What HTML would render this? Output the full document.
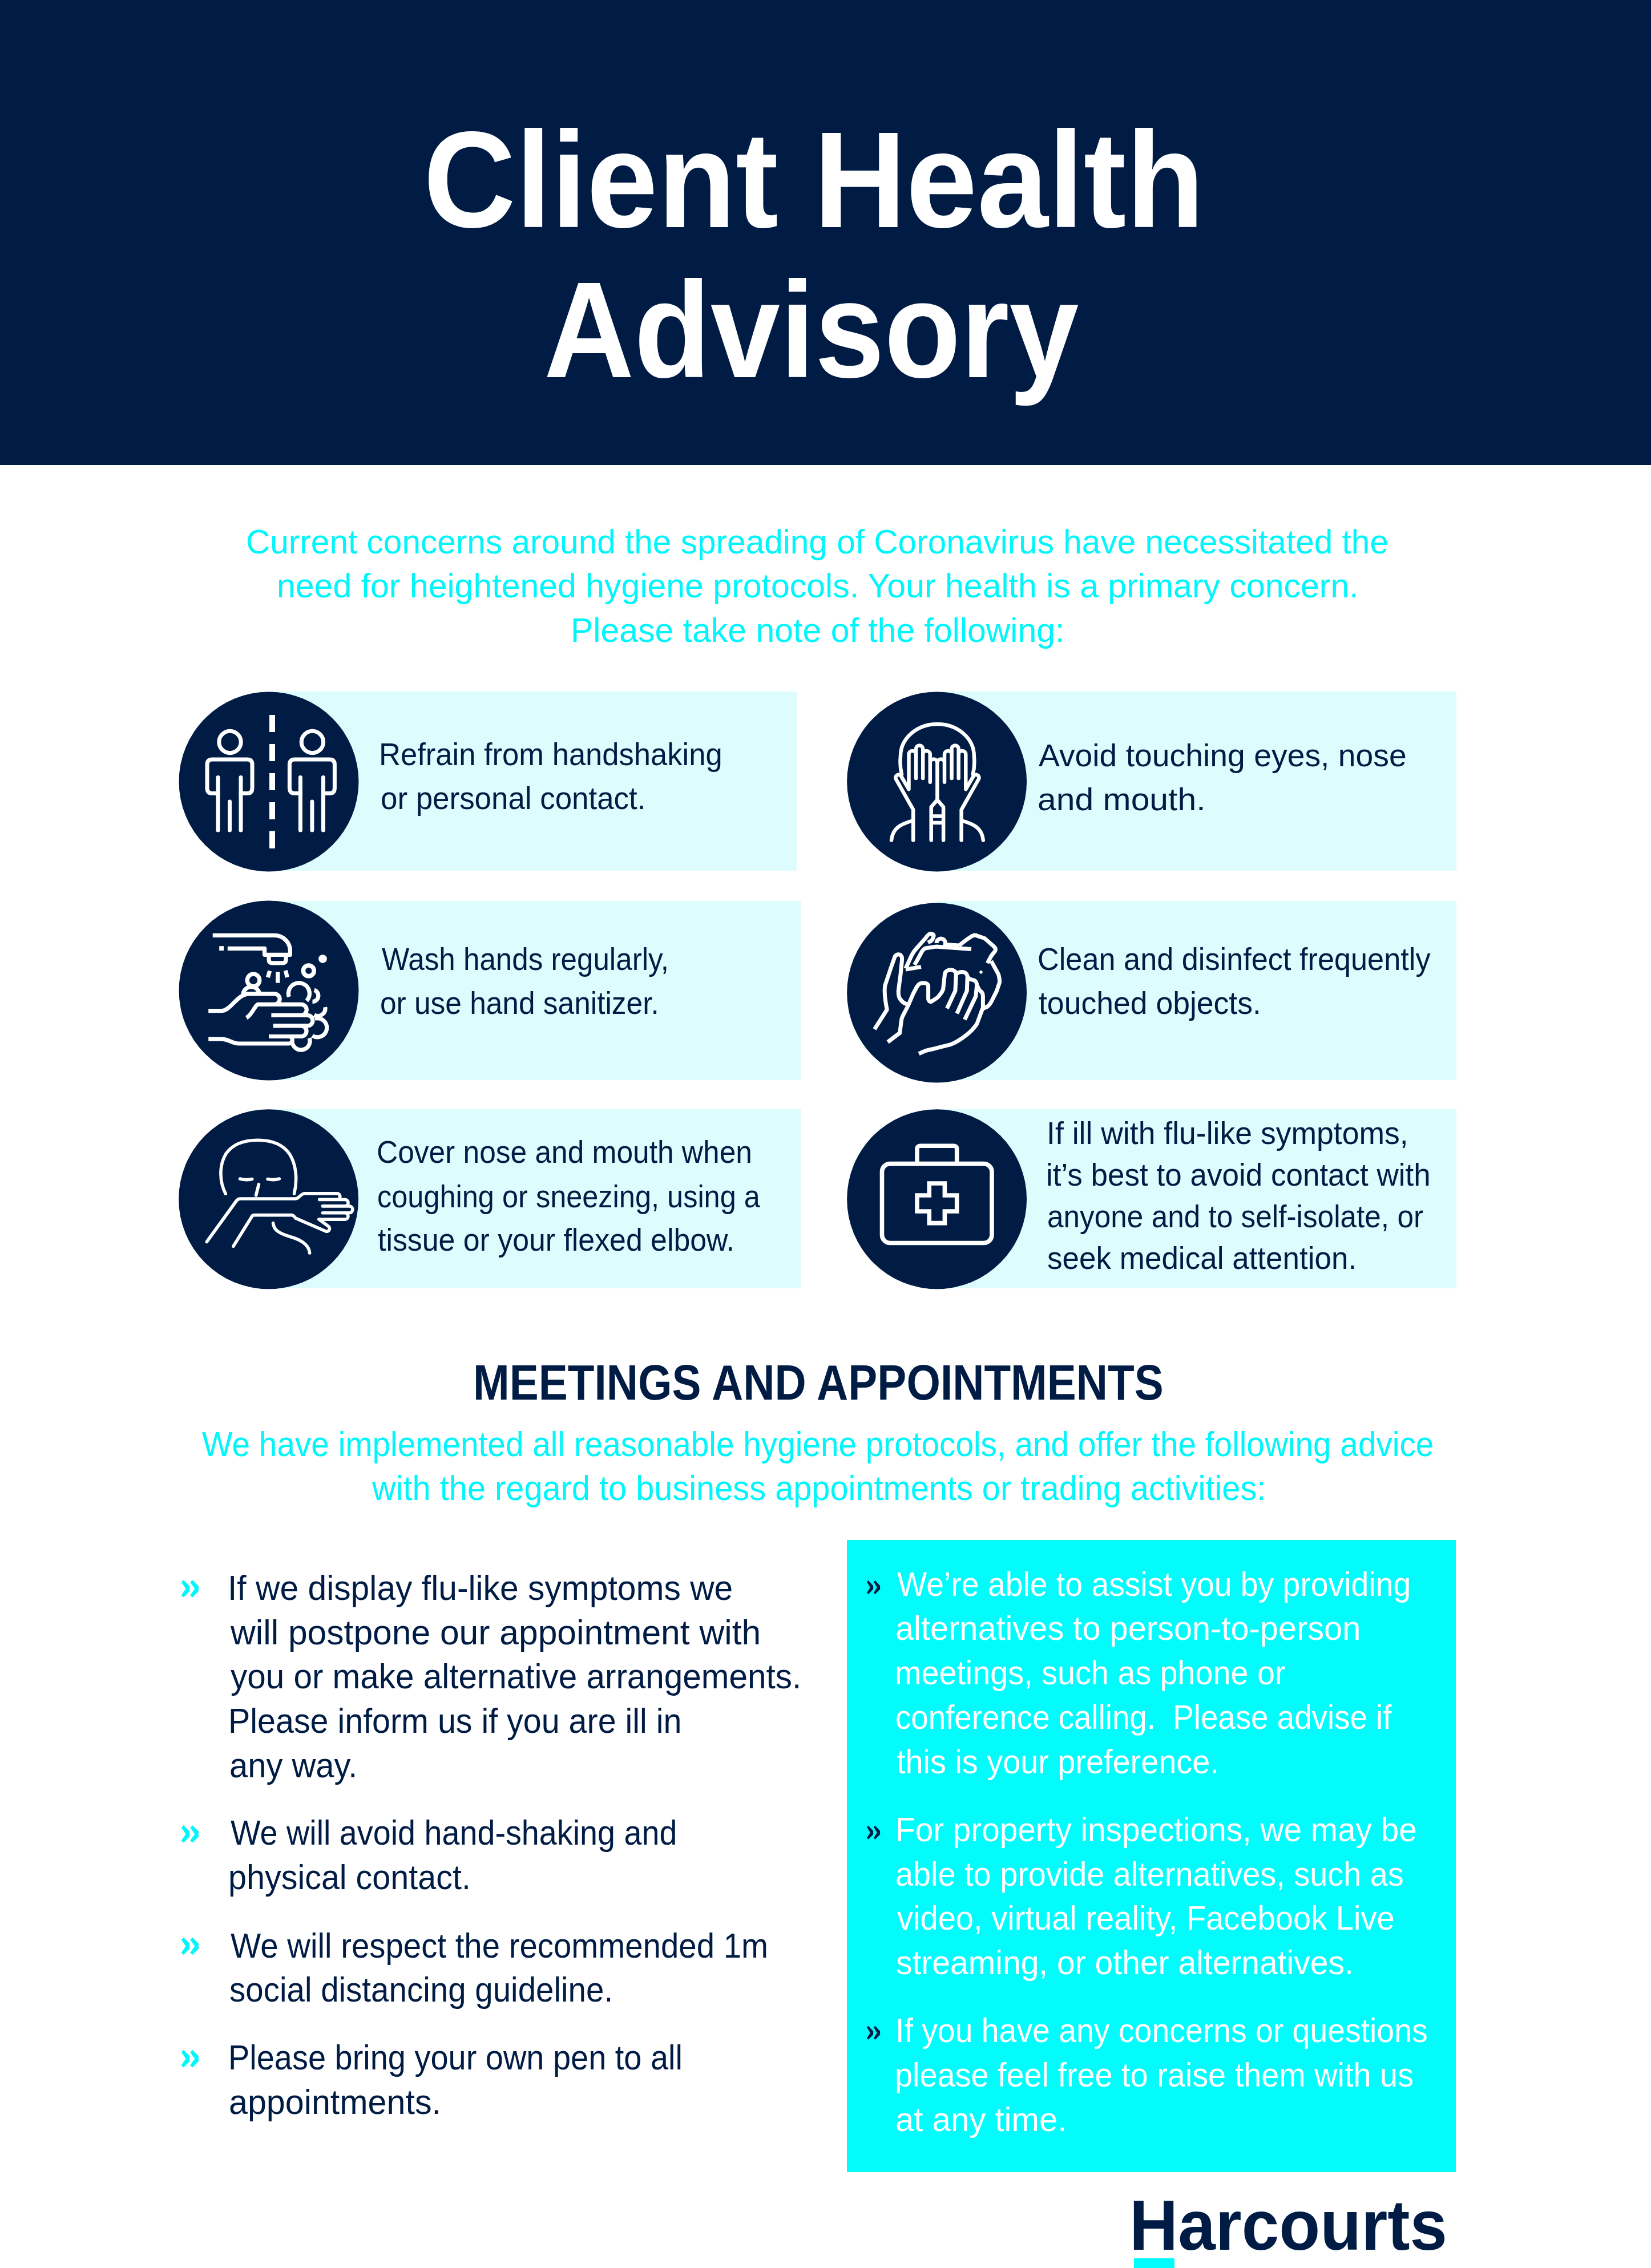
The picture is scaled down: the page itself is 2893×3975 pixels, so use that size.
<!DOCTYPE html>
<html><head><meta charset="utf-8"><title>Client Health Advisory</title>
<style>
html,body{margin:0;padding:0}
body{width:2893px;height:3975px;position:relative;overflow:hidden;background:#fff;font-family:"Liberation Sans",sans-serif}
.a{position:absolute}
.t{position:absolute;white-space:pre;transform-origin:0 0}
svg{position:absolute;overflow:visible}
</style></head><body>
<div class="a" style="left:0;top:0;width:2893px;height:815px;background:#001c44"></div><div class="a" style="left:471px;top:1212px;width:925px;height:314px;background:#dcfcfd"></div><div class="a" style="left:1642px;top:1212px;width:909.5px;height:314px;background:#dcfcfd"></div><div class="a" style="left:471px;top:1578.6px;width:931.7px;height:314.4000000000001px;background:#dcfcfd"></div><div class="a" style="left:1642px;top:1578.6px;width:909.5px;height:314.4000000000001px;background:#dcfcfd"></div><div class="a" style="left:471px;top:1943.6px;width:931.7px;height:314.4000000000001px;background:#dcfcfd"></div><div class="a" style="left:1642px;top:1943.6px;width:909.5px;height:314.4000000000001px;background:#dcfcfd"></div><div class="a" style="left:1483.6px;top:2698.6px;width:1067.9px;height:1108.4px;background:#02fcfc"></div><div class="a" style="left:1987px;top:3958px;width:71px;height:17px;background:#02fcfc"></div><svg style="left:310px;top:1210px" width="320" height="320" viewBox="0 0 320 320"><circle cx="161" cy="160" r="157.5" fill="#001c44"/><path d="M167 43V73M167 94V124M167 145V175M167 196V226M167 246.5V277" stroke="#fff" stroke-width="10" fill="none"/><g transform="translate(0,0)" fill="none" stroke="#fff" stroke-linecap="round" stroke-linejoin="round" stroke-width="7"><circle cx="93" cy="90.5" r="19.2"/><path d="M72 180.5H62Q53 180.5 53 171V130Q53 121 62 121H123Q132 121 132 130V171Q132 180.5 123 180.5H112"/><path d="M72 152.5V245M112 152.5V245M92.5 195V245"/></g><g transform="translate(144.4,0)" fill="none" stroke="#fff" stroke-linecap="round" stroke-linejoin="round" stroke-width="7"><circle cx="93" cy="90.5" r="19.2"/><path d="M72 180.5H62Q53 180.5 53 171V130Q53 121 62 121H123Q132 121 132 130V171Q132 180.5 123 180.5H112"/><path d="M72 152.5V245M112 152.5V245M92.5 195V245"/></g></svg><svg style="left:1480px;top:1210px" width="320" height="320" viewBox="0 0 320 320"><circle cx="161.6" cy="160" r="157.5" fill="#001c44"/><path d="M100 147C97 135 97 125 98 115A64.4 56 0 0 1 226.8 115C227.8 125 227.8 135 224.8 147M120.2 262.5V209.2L89.7 155A5 5 0 0 1 99.4 151L112.5 173.3V112.3A6.3 6.3 0 0 1 125.1 112.3V154M125.1 154V102.6A6.05 6.05 0 0 1 137.2 102.6V154M137.2 154V112.3A6.3 6.3 0 0 1 149.8 112.3V160.7M149.8 160.7V126.8A6.3 6.3 0 0 1 162.4 126.8V191.8L151.7 204.4V262.5M151.7 220.5H173.1M151.7 232H173.1M204.6 262.5V209.2L235.1 155A5 5 0 0 0 225.4 151L212.3 173.3V112.3A6.3 6.3 0 0 0 199.7 112.3V154M199.7 154V102.6A6.05 6.05 0 0 0 187.6 102.6V154M187.6 154V112.3A6.3 6.3 0 0 0 175 112.3V160.7M175 160.7V126.8A6.3 6.3 0 0 0 162.4 126.8V191.8L173.1 204.4V262.5M120.2 228C100 234 84 240 82 262.5M204.6 228C224.8 234 240.8 240 242.8 262.5" fill="none" stroke="#fff" stroke-linecap="round" stroke-linejoin="round" stroke-width="6.5"/></svg><svg style="left:310px;top:1575px" width="320" height="320" viewBox="0 0 320 320"><circle cx="161" cy="161" r="157.5" fill="#001c44"/><path d="M62.7 64.4H171.1A27.3 27.3 0 0 1 198.4 91.7V98.3H153.6V87.4H88.8M161.1 98.3V107Q161.1 112.8 167 112.8H185Q191.1 112.8 191.1 107V98.3M162.7 126.4L159.4 137.9M176.8 128.6V147.7M190.5 125.9L193.2 137.9M55.2 196.7H77.5C95 196.7 105 166.8 127 166.8H170.9A9.25 9.25 0 0 1 170.9 185.3H141.4C135 190 132 203 121.8 208.8M141.4 185.3H217.7A9.55 9.55 0 0 1 217.7 204.4H165.4M192 204.4H228.7A9.25 9.25 0 0 1 228.7 222.9H168.7M192 222.9H217.7A9.3 9.3 0 0 1 217.7 241.5H161M161 241.5H196A6.25 6.25 0 0 1 196 254H108.5C96 254 92 246.2 77.5 246.2H55.2" fill="none" stroke="#fff" stroke-width="7.2" stroke-linecap="butt" stroke-linejoin="round"/><rect x="74.2" y="83.2" width="7.9" height="7.8" fill="#fff"/><circle cx="255.5" cy="105.6" r="7.4" fill="#fff"/><circle cx="230.8" cy="126.4" r="9.4" fill="none" stroke="#fff" stroke-width="7.6"/><circle cx="134" cy="143" r="10.8" fill="none" stroke="#fff" stroke-width="7.2" stroke-linecap="butt" stroke-linejoin="round"/><path d="M115.7 169.2A14.6 14.6 0 0 1 144.9 169.2" fill="none" stroke="#fff" stroke-width="7.2" stroke-linecap="butt" stroke-linejoin="round"/><path d="M196.4 172.2A18.5 18.5 0 1 1 227.3 179" fill="none" stroke="#fff" stroke-width="7.2" stroke-linecap="butt" stroke-linejoin="round"/><path d="M240.6 160.2A10.4 10.4 0 0 1 237.5 180.5" fill="none" stroke="#fff" stroke-width="7.2" stroke-linecap="butt" stroke-linejoin="round"/><path d="M259.7 190.2A13 13 0 0 1 240.6 203.9" fill="none" stroke="#fff" stroke-width="7.2" stroke-linecap="butt" stroke-linejoin="round"/><path d="M241.8 210.2A16.6 16.6 0 1 1 237.3 240.3" fill="none" stroke="#fff" stroke-width="7.2" stroke-linecap="butt" stroke-linejoin="round"/><path d="M201.9 249.6A15.6 15.6 0 1 0 232.2 244.3" fill="none" stroke="#fff" stroke-width="7.2" stroke-linecap="butt" stroke-linejoin="round"/></svg><svg style="left:1480px;top:1578px" width="320" height="320" viewBox="0 0 320 320"><circle cx="161.6" cy="162" r="157.5" fill="#001c44"/><path d="M52.4 225.9L74.2 191.7C71 175 69 158 71 148.6L80.7 119.5L87.5 100.1C89 96 92 94.5 94.8 94.8C99 95 101 99 100.6 104L98.1 129.2L94.3 158.3C94 165 95 170 97.2 172.8C100 177 104 180 105.9 180.6L111.7 183.5M106.9 119.5L117.5 96.3C120 91 124 86 127.2 82.7L141.8 66.2C144 63 147 58.5 150.5 58.5C154 58.5 157 60 155.8 63.3C155 67 153 70 151.4 71.1L146 74M161.1 75A7.7 7.7 0 1 1 176 77.5L200.7 79.1M134 116.6L106.9 121M122.4 113L127.2 105L135 90.5C137 87 140 84 142.7 83.7L160 81.1L222 85.4M200.7 79.1L214.3 68.5L223 62.7C226 61 230 60.5 233.6 62.7L245.3 66.5L261.8 81.1C264 83 265 86 263.7 88.8L256.9 97.5L250.1 110.1M256.9 106.3L269.5 129.5C271 135 272 140 271.4 144.1L266.6 158.6L256.9 178C254 183 250 187 247.2 187.7L243.3 189.6M75.6 248.4L96.7 232.4L99.6 209.2C100.5 205 101.5 203 103 200.5L111.7 183.5L120.4 163.1L127.2 150.5C130 146 134 144.7 137.9 144.7C142 144.7 146 146 146.6 150V172.8C147 176 149 177.7 151.4 177.7L162.1 170.9C166 167 170 163 172.6 156L175.5 129.5C176 124 181 121.8 186.2 121.8C191 121.8 195.4 125 195.4 129.5L193.9 158.6L179.4 189.6M195.4 129.5C196 128 200 125.6 205.5 125.6C211 125.6 215.2 129 215.2 134.4L214.3 158.6L196.8 198.3M215.2 134.4C217 136 220 139 224 139.2C228 139.5 231.7 143 231.7 148.9L229.8 168.3L210.4 209M130.1 268.8C140 264 146 262 150.5 261.5C165 258 175 255 185.4 252.8C196 249 206 242 214.4 235.3C222 229 228 222 231.9 216.4L242.4 187.7V168.3C242.4 163 240 160 237.5 158.6C236 158 234 152 231.7 148.9" fill="none" stroke="#fff" stroke-width="7" stroke-linecap="butt" stroke-linejoin="round"/><rect x="236.5" y="123.2" width="5" height="5" fill="#fff" transform="rotate(45 239 125.7)"/></svg><svg style="left:310px;top:1942px" width="320" height="320" viewBox="0 0 320 320"><circle cx="160.6" cy="159.7" r="157.5" fill="#001c44"/><path d="M85.3 150.2C74 128 74 100 86 80C98 63 118 56.2 141.5 56.2C165 56.2 185 63 197 80C210 100 211 128 205.5 150.2M110.5 124C117 126 125 126 131.8 124.5M159 124.5C166 126 173 126 179.3 124M143.4 133.7L138.6 153M52.3 234.5L104 163C106 160 108 159 111 159H208C214 159 217 149.7 224 149.7H280.5A5.35 5.35 0 0 1 280.5 160.4H249.8M249.8 160.4H294.3A5.75 5.75 0 0 1 294.3 171.9H255.4M255.4 171.9H302A5.9 5.9 0 0 1 302 183.7H255.4M255.4 183.7H294.3A5.7 5.7 0 0 1 294.3 195.1H248.8M98.9 242.3L132 189C133 187.6 134 187.6 136 187.6H201.6C204 188 206 191 208.1 193.1L260.9 216A5 5 0 0 0 265.1 207L248.8 195.1M168.6 201.6C170 215 180 220 200 226C225 233 232 245 232.6 254" fill="none" stroke="#fff" stroke-width="5.6" stroke-linecap="round" stroke-linejoin="round"/></svg><svg style="left:1480px;top:1942px" width="320" height="320" viewBox="0 0 320 320"><circle cx="161.6" cy="159.7" r="157.5" fill="#001c44"/><rect x="65.5" y="97.6" width="192.5" height="138.9" rx="14" ry="14" fill="none" stroke="#fff" stroke-width="7.6"/><path d="M127 97.6V71.3A5 5 0 0 1 132 66.3H191.7A5 5 0 0 1 196.7 71.3V97.6" fill="none" stroke="#fff" stroke-width="7.6"/><path d="M148.3 132V153H127V181H148.3V201.6H175.4V181H196.7V153H175.4V132Z" fill="none" stroke="#fff" stroke-width="7.6" stroke-linejoin="miter"/></svg><div class="t" style="left:741.67px;top:195.34px;font-size:240px;line-height:240px;font-weight:700;color:#ffffff;transform:scaleX(0.9327)">Client Health</div><div class="t" style="left:952.52px;top:458.14px;font-size:240px;line-height:240px;font-weight:700;color:#ffffff;transform:scaleX(0.9127)">Advisory</div><div class="t" style="left:431.07px;top:919.71px;font-size:60px;line-height:60px;font-weight:400;color:#00f6fa;transform:scaleX(0.9760)">Current concerns around the spreading of Coronavirus have necessitated the</div><div class="t" style="left:485.07px;top:997.21px;font-size:60px;line-height:60px;font-weight:400;color:#00f6fa;transform:scaleX(0.9833)">need for heightened hygiene protocols. Your health is a primary concern.</div><div class="t" style="left:1000.09px;top:1075.21px;font-size:60px;line-height:60px;font-weight:400;color:#00f6fa;transform:scaleX(0.9828)">Please take note of the following:</div><div class="t" style="left:664.31px;top:1293.60px;font-size:56px;line-height:56px;font-weight:400;color:#001c44;transform:scaleX(0.9383)">Refrain from handshaking</div><div class="t" style="left:667.11px;top:1370.60px;font-size:56px;line-height:56px;font-weight:400;color:#001c44;transform:scaleX(0.9443)">or personal contact.</div><div class="t" style="left:1819.50px;top:1296.10px;font-size:56px;line-height:56px;font-weight:400;color:#001c44;transform:scaleX(0.9877)">Avoid touching eyes, nose</div><div class="t" style="left:1818.40px;top:1373.10px;font-size:56px;line-height:56px;font-weight:400;color:#001c44;transform:scaleX(1.0513)">and mouth.</div><div class="t" style="left:668.50px;top:1652.60px;font-size:56px;line-height:56px;font-weight:400;color:#001c44;transform:scaleX(0.9130)">Wash hands regularly,</div><div class="t" style="left:665.76px;top:1729.60px;font-size:56px;line-height:56px;font-weight:400;color:#001c44;transform:scaleX(0.9181)">or use hand sanitizer.</div><div class="t" style="left:1817.90px;top:1652.60px;font-size:56px;line-height:56px;font-weight:400;color:#001c44;transform:scaleX(0.9332)">Clean and disinfect frequently</div><div class="t" style="left:1819.74px;top:1729.60px;font-size:56px;line-height:56px;font-weight:400;color:#001c44;transform:scaleX(0.9560)">touched objects.</div><div class="t" style="left:660.24px;top:1991.10px;font-size:56px;line-height:56px;font-weight:400;color:#001c44;transform:scaleX(0.9188)">Cover nose and mouth when</div><div class="t" style="left:661.20px;top:2069.30px;font-size:56px;line-height:56px;font-weight:400;color:#001c44;transform:scaleX(0.9016)">coughing or sneezing, using a</div><div class="t" style="left:662.07px;top:2144.80px;font-size:56px;line-height:56px;font-weight:400;color:#001c44;transform:scaleX(0.9253)">tissue or your flexed elbow.</div><div class="t" style="left:1834.13px;top:1959.04px;font-size:55px;line-height:55px;font-weight:400;color:#001c44;transform:scaleX(0.9735)">If ill with flu-like symptoms,</div><div class="t" style="left:1833.14px;top:2031.84px;font-size:55px;line-height:55px;font-weight:400;color:#001c44;transform:scaleX(0.9639)">it’s best to avoid contact with</div><div class="t" style="left:1835.13px;top:2104.64px;font-size:55px;line-height:55px;font-weight:400;color:#001c44;transform:scaleX(0.9331)">anyone and to self-isolate, or</div><div class="t" style="left:1835.07px;top:2177.54px;font-size:55px;line-height:55px;font-weight:400;color:#001c44;transform:scaleX(0.9640)">seek medical attention.</div><div class="t" style="left:828.72px;top:2379.35px;font-size:87px;line-height:87px;font-weight:700;color:#001c44;transform:scaleX(0.8793)">MEETINGS AND APPOINTMENTS</div><div class="t" style="left:354.00px;top:2500.66px;font-size:61px;line-height:61px;font-weight:400;color:#00f6fa;transform:scaleX(0.9301)">We have implemented all reasonable hygiene protocols, and offer the following advice</div><div class="t" style="left:652.00px;top:2578.36px;font-size:61px;line-height:61px;font-weight:400;color:#00f6fa;transform:scaleX(0.9466)">with the regard to business appointments or trading activities:</div><div class="t" style="left:399.22px;top:2752.86px;font-size:61px;line-height:61px;font-weight:400;color:#001c44;transform:scaleX(0.9637)">If we display flu-like symptoms we</div><div class="t" style="left:404.00px;top:2830.66px;font-size:61px;line-height:61px;font-weight:400;color:#001c44;transform:scaleX(0.9928)">will postpone our appointment with</div><div class="t" style="left:404.00px;top:2908.36px;font-size:61px;line-height:61px;font-weight:400;color:#001c44;transform:scaleX(0.9577)">you or make alternative arrangements.</div><div class="t" style="left:400.30px;top:2986.16px;font-size:61px;line-height:61px;font-weight:400;color:#001c44;transform:scaleX(0.9410)">Please inform us if you are ill in</div><div class="t" style="left:402.15px;top:3063.86px;font-size:61px;line-height:61px;font-weight:400;color:#001c44;transform:scaleX(0.9496)">any way.</div><div class="t" style="left:404.00px;top:3182.46px;font-size:61px;line-height:61px;font-weight:400;color:#001c44;transform:scaleX(0.9132)">We will avoid hand-shaking and</div><div class="t" style="left:400.23px;top:3259.86px;font-size:61px;line-height:61px;font-weight:400;color:#001c44;transform:scaleX(0.9422)">physical contact.</div><div class="t" style="left:404.00px;top:3380.06px;font-size:61px;line-height:61px;font-weight:400;color:#001c44;transform:scaleX(0.9241)">We will respect the recommended 1m</div><div class="t" style="left:402.15px;top:3457.46px;font-size:61px;line-height:61px;font-weight:400;color:#001c44;transform:scaleX(0.9262)">social distancing guideline.</div><div class="t" style="left:400.42px;top:3576.46px;font-size:61px;line-height:61px;font-weight:400;color:#001c44;transform:scaleX(0.9169)">Please bring your own pen to all</div><div class="t" style="left:401.09px;top:3653.86px;font-size:61px;line-height:61px;font-weight:400;color:#001c44;transform:scaleX(0.9707)">appointments.</div><div class="t" style="left:1572.40px;top:2747.86px;font-size:59px;line-height:59px;font-weight:400;color:#ffffff;transform:scaleX(0.9379)">We’re able to assist you by providing</div><div class="t" style="left:1569.06px;top:2825.06px;font-size:59px;line-height:59px;font-weight:400;color:#ffffff;transform:scaleX(0.9788)">alternatives to person-to-person</div><div class="t" style="left:1568.22px;top:2902.76px;font-size:59px;line-height:59px;font-weight:400;color:#ffffff;transform:scaleX(0.9444)">meetings, such as phone or</div><div class="t" style="left:1569.22px;top:2980.66px;font-size:59px;line-height:59px;font-weight:400;color:#ffffff;transform:scaleX(0.9268)">conference calling.  Please advise if</div><div class="t" style="left:1571.05px;top:3058.56px;font-size:59px;line-height:59px;font-weight:400;color:#ffffff;transform:scaleX(0.9463)">this is your preference.</div><div class="t" style="left:1568.90px;top:3178.16px;font-size:59px;line-height:59px;font-weight:400;color:#ffffff;transform:scaleX(0.9608)">For property inspections, we may be</div><div class="t" style="left:1569.16px;top:3256.06px;font-size:59px;line-height:59px;font-weight:400;color:#ffffff;transform:scaleX(0.9463)">able to provide alternatives, such as</div><div class="t" style="left:1572.00px;top:3333.36px;font-size:59px;line-height:59px;font-weight:400;color:#ffffff;transform:scaleX(0.9504)">video, virtual reality, Facebook Live</div><div class="t" style="left:1570.07px;top:3411.26px;font-size:59px;line-height:59px;font-weight:400;color:#ffffff;transform:scaleX(0.9665)">streaming, or other alternatives.</div><div class="t" style="left:1569.01px;top:3530.06px;font-size:59px;line-height:59px;font-weight:400;color:#ffffff;transform:scaleX(0.9385)">If you have any concerns or questions</div><div class="t" style="left:1568.22px;top:3608.06px;font-size:59px;line-height:59px;font-weight:400;color:#ffffff;transform:scaleX(0.9459)">please feel free to raise them with us</div><div class="t" style="left:1569.05px;top:3685.66px;font-size:59px;line-height:59px;font-weight:400;color:#ffffff;transform:scaleX(0.9848)">at any time.</div><div class="t" style="left:1979.45px;top:3836.59px;font-size:125px;line-height:125px;font-weight:700;color:#001c44;transform:scaleX(0.9437)">Harcourts</div><svg style="left:0;top:0" width="1" height="1"><polygon points="317.7,2772.8 321.7,2769.2 332.3,2779.7 332.3,2788.8 321.7,2799.5 317.5,2795.9 325.7,2784.4" fill="#00f6fa"/><polygon points="333.3,2772.8 337.3,2769.2 347.9,2779.7 347.9,2788.8 337.3,2799.5 333.1,2795.9 341.3,2784.4" fill="#00f6fa"/></svg><svg style="left:0;top:0" width="1" height="1"><polygon points="317.7,3202.9 321.7,3199.3 332.3,3209.8 332.3,3218.9 321.7,3229.6 317.5,3226.0 325.7,3214.5" fill="#00f6fa"/><polygon points="333.3,3202.9 337.3,3199.3 347.9,3209.8 347.9,3218.9 337.3,3229.6 333.1,3226.0 341.3,3214.5" fill="#00f6fa"/></svg><svg style="left:0;top:0" width="1" height="1"><polygon points="317.7,3399.4 321.7,3395.8 332.3,3406.3 332.3,3415.4 321.7,3426.1 317.5,3422.5 325.7,3411.0" fill="#00f6fa"/><polygon points="333.3,3399.4 337.3,3395.8 347.9,3406.3 347.9,3415.4 337.3,3426.1 333.1,3422.5 341.3,3411.0" fill="#00f6fa"/></svg><svg style="left:0;top:0" width="1" height="1"><polygon points="317.7,3596.7 321.7,3593.1 332.3,3603.6 332.3,3612.7 321.7,3623.4 317.5,3619.8 325.7,3608.3" fill="#00f6fa"/><polygon points="333.3,3596.7 337.3,3593.1 347.9,3603.6 347.9,3612.7 337.3,3623.4 333.1,3619.8 341.3,3608.3" fill="#00f6fa"/></svg><svg style="left:0;top:0" width="1" height="1"><polygon points="1519.0,2772.4 1521.5,2770.1 1530.1,2779.3 1530.1,2785.2 1521.5,2794.1 1519.0,2791.5 1524.8,2782.3" fill="#001c44"/><polygon points="1531.0,2772.4 1533.5,2770.1 1542.1,2779.3 1542.1,2785.2 1533.5,2794.1 1531.0,2791.5 1536.8,2782.3" fill="#001c44"/></svg><svg style="left:0;top:0" width="1" height="1"><polygon points="1519.0,3202.1 1521.5,3199.8 1530.1,3209.0 1530.1,3214.9 1521.5,3223.8 1519.0,3221.2 1524.8,3212.0" fill="#001c44"/><polygon points="1531.0,3202.1 1533.5,3199.8 1542.1,3209.0 1542.1,3214.9 1533.5,3223.8 1531.0,3221.2 1536.8,3212.0" fill="#001c44"/></svg><svg style="left:0;top:0" width="1" height="1"><polygon points="1519.0,3553.1 1521.5,3550.8 1530.1,3560.0 1530.1,3565.9 1521.5,3574.8 1519.0,3572.2 1524.8,3563.0" fill="#001c44"/><polygon points="1531.0,3553.1 1533.5,3550.8 1542.1,3560.0 1542.1,3565.9 1533.5,3574.8 1531.0,3572.2 1536.8,3563.0" fill="#001c44"/></svg></body></html>
